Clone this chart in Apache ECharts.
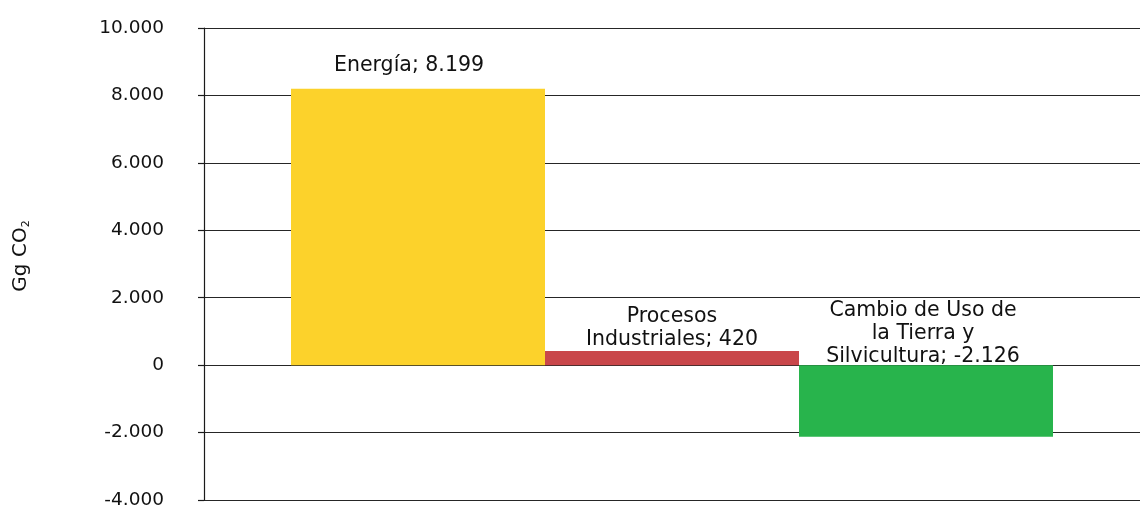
<!DOCTYPE html>
<html>
<head>
<meta charset="utf-8">
<script src="https://cdn.jsdelivr.net/npm/echarts@6/dist/echarts.min.js"></script>
<style>html,body{margin:0;padding:0;background:#fff}#c{width:1140px;height:505px}</style>
</head>
<body>
<div id="c"></div>
<script>
var categories = ['Emisiones'];
var seriesNames = ['Energía', 'Procesos\nIndustriales', 'Cambio de Uso de\nla Tierra y\nSilvicultura'];
var seriesValues = [8199, 420, -2126];
var seriesColors = ['#FCD22B', '#C9474A', '#28B44C'];
var yTicks = { min: -4000, max: 10000, interval: 2000 };

function fmt(v) {
  var s = Math.abs(v).toString().replace(/\B(?=(\d{3})+(?!\d))/g, '.');
  return (v < 0 ? '-' : '') + s;
}

var labelTweaks = [
  { distance: 12, offset: [-9, 0] },
  { distance: 0, offset: [0, 0] },
  { distance: -3, offset: [-3, 0] }
];

var series = seriesNames.map(function (name, i) {
  return {
    type: 'bar',
    name: name,
    data: [seriesValues[i]],
    barWidth: 254,
    barGap: '0%',
    itemStyle: { color: seriesColors[i] },
    label: {
      show: true,
      position: 'top',
      distance: labelTweaks[i].distance,
      offset: labelTweaks[i].offset,
      fontFamily: 'DejaVu Sans',
      fontSize: 20.5,
      lineHeight: 23,
      color: '#111',
      align: 'center',
      formatter: function (p) { return name + '; ' + fmt(p.value); }
    }
  };
});

var chart = echarts.init(document.getElementById('c'));
chart.setOption({
  animation: false,
  grid: { left: 204, right: 0, top: 28, bottom: 5, outerBoundsMode: 'none', containLabel: false },
  xAxis: {
    type: 'category',
    data: categories,
    axisLine: { show: false },
    axisTick: { show: false },
    axisLabel: { show: false },
    splitLine: { show: false }
  },
  yAxis: {
    type: 'value',
    min: yTicks.min,
    max: yTicks.max,
    interval: yTicks.interval,
    name: 'Gg CO{sub|2}',
    nameLocation: 'middle',
    nameGap: 172,
    nameRotate: 90,
    nameTextStyle: {
      fontFamily: 'DejaVu Sans',
      fontSize: 20,
      color: '#111',
      lineHeight: 22,
      padding: [0, 0, 0, 16],
      rich: {
        sub: { fontSize: 11, lineHeight: 6, verticalAlign: 'bottom', fontFamily: 'DejaVu Sans', color: '#111' }
      }
    },
    axisLine: { show: true, lineStyle: { color: '#1a1a1a', width: 1.2 } },
    axisTick: { show: true, length: 6, lineStyle: { color: '#1a1a1a', width: 1.2 } },
    axisLabel: {
      margin: 40,
      fontFamily: 'DejaVu Sans',
      fontSize: 18.5,
      color: '#111',
      formatter: function (v) { return fmt(v); }
    },
    splitLine: { show: true, lineStyle: { color: '#262626', width: 1.2 } }
  },
  series: series
});
</script>
</body>
</html>
